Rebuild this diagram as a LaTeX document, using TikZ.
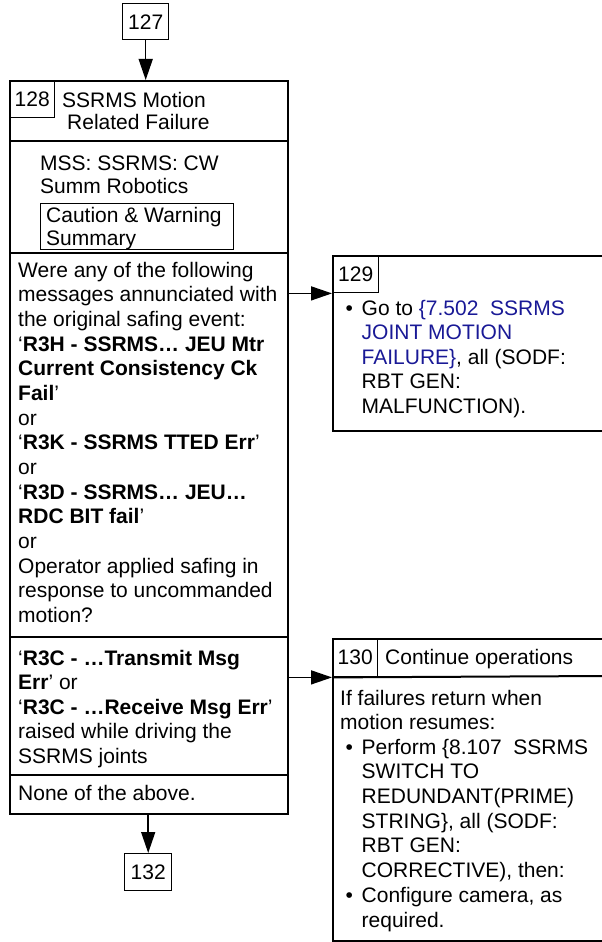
\documentclass[tikz,border=0pt]{standalone}
\usepackage{fontspec}
\setmainfont{Liberation Sans}
\usetikzlibrary{arrows.meta}
\definecolor{linkblue}{RGB}{25,25,150}
\begin{document}
\begin{tikzpicture}[x=1pt,y=-1pt,
  txt/.style={anchor=base west, inner sep=0pt, align=left, font=\fontsize{21}{24.64}\selectfont},
  hdr/.style={anchor=base west, inner sep=0pt, align=left, font=\fontsize{21}{22.7}\selectfont},
  frame/.style={draw, line width=2pt, rectangle, inner sep=0pt, anchor=north west},
  numbox/.style={draw, line width=1.4pt, rectangle, inner sep=0pt, anchor=north west, font=\fontsize{21}{24}\selectfont},
  arr/.style={line width=1.5pt, -{Triangle[length=21pt,width=14pt]}},
  sep/.style={line width=2pt}
]
\useasboundingbox (0,0) rectangle (602,942);
% (text nodes are placed by the baseline of their LAST line)

% ---- box 127
\node[numbox, minimum width=46pt, minimum height=36pt] (n127) at (122,3) {127};

% ---- box 128
\node[frame, minimum width=278pt, minimum height=733pt] (b128) at (9,80) {};
\node[numbox, minimum width=45pt, minimum height=37pt] (num128) at (9,80) {128};
\node[hdr] (t128) at (62,129.7) {SSRMS Motion\\\hspace*{5pt}Related Failure};
\draw[sep] (9,141) -- (287,141);
\node[hdr] (mss) at (40,193.4) {MSS: SSRMS: CW\\Summ Robotics};
\node[numbox, minimum width=193pt, minimum height=46pt] (cw) at (40,203) {};
\node[hdr, font=\fontsize{21}{22.5}\selectfont] (cwt) at (46,245.2) {Caution \& Warning\\Summary};
\draw[sep] (9,253) -- (287,253);
\node[txt] (q1) at (18,622.3) {Were any of the following\\
messages annunciated with\\
the original safing event:\\
‘\textbf{R3H - SSRMS… JEU Mtr}\\
\textbf{Current Consistency Ck}\\
\textbf{Fail}’\\
or\\
‘\textbf{R3K - SSRMS TTED Err}’\\
or\\
‘\textbf{R3D - SSRMS… JEU…}\\
\textbf{RDC BIT fail}’\\
or\\
Operator applied safing in\\
response to uncommanded\\
motion?};
\draw[sep] (9,637) -- (287,637);
\node[txt, font=\fontsize{21}{24.5}\selectfont] (q2) at (18,763) {‘\textbf{R3C - …Transmit Msg}\\
\textbf{Err}’ or\\
‘\textbf{R3C - …Receive Msg Err}’\\
raised while driving the\\
SSRMS joints};
\draw[sep] (9,775) -- (287,775);
\node[txt] (q3) at (18,800) {None of the above.};

% ---- box 132
\node[numbox, minimum width=47pt, minimum height=37pt] (n132) at (124,853) {132};

% ---- box 129
\node[frame, minimum width=274pt, minimum height=175pt] (b129) at (332,255) {};
\node[numbox, minimum width=46pt, minimum height=37pt] (num129) at (332,255) {129};
\node[txt] (bul129) at (345.5,315) {\textbullet};
\node[txt, font=\fontsize{21}{24.5}\selectfont] (t129) at (361.5,413) {Go to {\color{linkblue}\{7.502\ \ SSRMS}\\
{\color{linkblue}JOINT MOTION}\\
{\color{linkblue}FAILURE\}}, all (SODF:\\
RBT GEN:\\
MALFUNCTION).};

% ---- box 130
\node[frame, minimum width=274pt, minimum height=302pt] (b130) at (332,638) {};
\node[numbox, minimum width=45pt, minimum height=38pt] (num130) at (332,638) {130};
\node[txt] (t130h) at (385,664) {Continue operations};
\draw[sep] (num130.south west) -- (606,676);
\node[txt, font=\fontsize{21}{24.67}\selectfont] (t130a) at (340,729.7) {If failures return when\\motion resumes:};
\node[txt] (bul130a) at (345.5,754.3) {\textbullet};
\node[txt, font=\fontsize{21}{24.67}\selectfont] (t130b) at (361.5,877.65) {Perform \{8.107\ \ SSRMS\\
SWITCH TO\\
REDUNDANT(PRIME)\\
STRING\}, all (SODF:\\
RBT GEN:\\
CORRECTIVE), then:};
\node[txt] (bul130b) at (345.5,902.4) {\textbullet};
\node[txt, font=\fontsize{21}{24.67}\selectfont] (t130c) at (361.5,927.1) {Configure camera, as\\required.};

% ---- connectors
\draw[arr] (n127.south) -- (n127.south |- b128.north);
\draw[arr] (b128.east |- num129.south west) -- (num129.south west);
\draw[arr] (b128.east |- num130.south west) -- (num130.south west);
\draw[arr] (n132.north |- b128.south) -- (n132.north);
\end{tikzpicture}
\end{document}
